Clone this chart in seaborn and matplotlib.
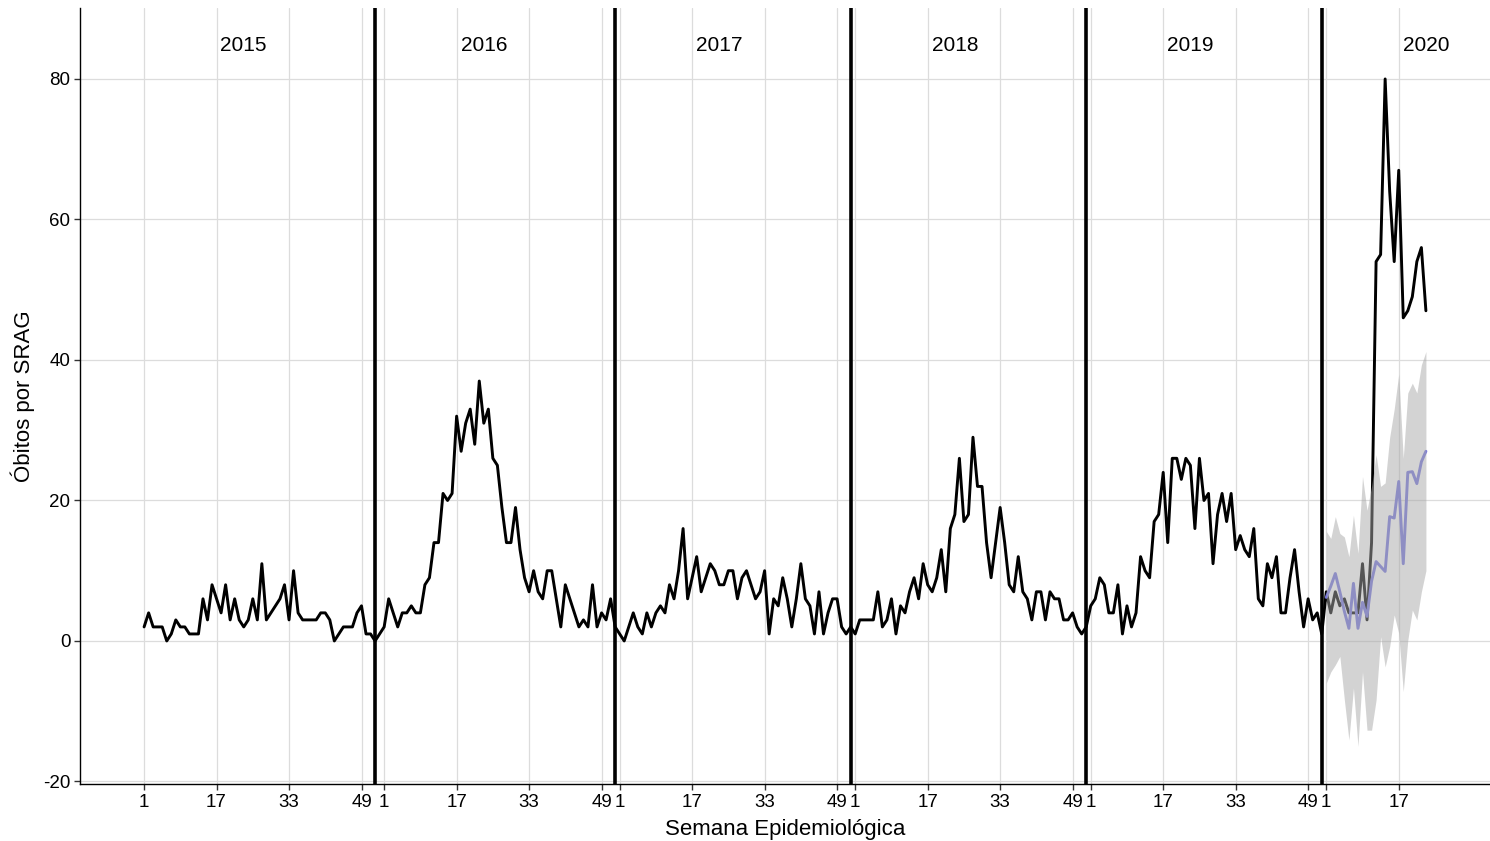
import numpy as np
import pandas as pd
import matplotlib
matplotlib.use("Agg")
import matplotlib.pyplot as plt
import seaborn as sns

# weekly SRAG deaths per year (epidemiological weeks)
years = [2015, 2016, 2017, 2018, 2019, 2020]

obitos_2015 = [2, 4, 2, 2, 2, 0, 1, 3, 2, 2, 1, 1, 1, 6, 3, 8, 6, 4, 8, 3,
               6, 3, 2, 3, 6, 3, 11, 3, 4, 5, 6, 8, 3, 10, 4, 3, 3, 3, 3, 4,
               4, 3, 0, 1, 2, 2, 2, 4, 5, 1, 1, 0, 1]
obitos_2016 = [2, 6, 4, 2, 4, 4, 5, 4, 4, 8, 9, 14, 14, 21, 20, 21, 32, 27, 31, 33,
               28, 37, 31, 33, 26, 25, 19, 14, 14, 19, 13, 9, 7, 10, 7, 6, 10, 10, 6, 2,
               8, 6, 4, 2, 3, 2, 8, 2, 4, 3, 6, 2]
obitos_2017 = [1, 0, 2, 4, 2, 1, 4, 2, 4, 5, 4, 8, 6, 10, 16, 6, 9, 12, 7, 9,
               11, 10, 8, 8, 10, 10, 6, 9, 10, 8, 6, 7, 10, 1, 6, 5, 9, 6, 2, 6,
               11, 6, 5, 1, 7, 1, 4, 6, 6, 2, 1, 2]
obitos_2018 = [1, 3, 3, 3, 3, 7, 2, 3, 6, 1, 5, 4, 7, 9, 6, 11, 8, 7, 9, 13,
               7, 16, 18, 26, 17, 18, 29, 22, 22, 14, 9, 14, 19, 14, 8, 7, 12, 7, 6, 3,
               7, 7, 3, 7, 6, 6, 3, 3, 4, 2, 1, 2]
obitos_2019 = [5, 6, 9, 8, 4, 4, 8, 1, 5, 2, 4, 12, 10, 9, 17, 18, 24, 14, 26, 26,
               23, 26, 25, 16, 26, 20, 21, 11, 18, 21, 17, 21, 13, 15, 13, 12, 16, 6, 5, 11,
               9, 12, 4, 4, 9, 13, 7, 2, 6, 3, 4, 1]
obitos_2020 = [7, 4, 7, 5, 6, 4, 4, 4, 11, 3, 14, 54, 55, 80, 64, 54, 67, 46, 47, 49,
               54, 56, 47]

# expected deaths for 2020 (mean and interval)
media_2020 = [6.2, 7.8, 9.6, 7.0, 4.2, 1.8, 8.2, 1.8, 5.5, 3.5, 8.5, 11.3, 10.6, 9.9, 17.7,
              17.5, 22.7, 11.0, 24.0, 24.1, 22.4, 25.5, 27.0]
inferior_2020 = [-6.0, -4.4, -3.4, -2.2, -8.4, -14.1, -6.7, -15.0, -4.4, -12.7, -12.7, -8.4,
                 0.6, -3.7, -0.8, 3.7, 1.1, -7.2, 0.1, 4.4, 3.0, 7.0, 10.0]
superior_2020 = [15.6, 14.6, 17.7, 15.3, 14.8, 12.0, 17.9, 12.5, 23.4, 18.6, 22.0, 26.5,
                 22.0, 22.5, 29.0, 33.0, 38.0, 26.0, 35.3, 36.7, 35.3, 39.3, 41.2]

tick_weeks = [1, 17, 33, 49]

rows = []
idx = 1
for ano, valores in zip(years, [obitos_2015, obitos_2016, obitos_2017,
                                obitos_2018, obitos_2019, obitos_2020]):
    for semana, v in enumerate(valores, start=1):
        rows.append({"ano": ano, "semana": semana, "x": idx, "obitos": v})
        idx += 1
df = pd.DataFrame(rows)

inicio = df[df.semana == 1].set_index("ano")["x"]
pred = pd.DataFrame({"x": inicio[2020] + np.arange(len(media_2020)),
                     "media": media_2020, "inf": inferior_2020, "sup": superior_2020})

sns.set_theme(style="white")
plt.rcParams["font.family"] = ["Liberation Sans", "DejaVu Sans"]
plt.rcParams["axes.unicode_minus"] = False
plt.rcParams["text.color"] = "black"
plt.rcParams["axes.labelcolor"] = "black"

fig = plt.figure(figsize=(14.9, 8.41), dpi=100)
ax = fig.add_axes([80 / 1490, 57 / 841, 1410 / 1490, 776 / 841])

ticks = df[df.semana.isin(tick_weeks)]
ax.set_xticks(ticks.x)
ax.set_xticklabels(ticks.semana.astype(str))
ax.set_yticks([-20, 0, 20, 40, 60, 80])
ax.grid(True, color="#dcdcdc", lw=0.9)
ax.set_axisbelow(True)

for x in df[(df.semana == 52) & (df.ano < 2020)].x:
    ax.axvline(x, color="black", lw=2.6, zorder=2)

sns.lineplot(data=df, x="x", y="obitos", color="black", lw=2.1, ax=ax, zorder=3)
sns.lineplot(data=pred, x="x", y="media", color="#7474e0", lw=2.1, ax=ax, zorder=3)
ax.fill_between(pred.x, pred.inf, pred.sup, color="#a8a8a8", alpha=0.5, lw=0, zorder=4)

for ano in years:
    ax.text(inicio[ano] + 22, 84.7, str(ano), ha="center", va="center", fontsize=15,
            color="black")

ax.set_xlim(-13.15, 298.15)
ax.set_ylim(-20.36, 90.1)
ax.set_xlabel("Semana Epidemiológica", fontsize=16, labelpad=6)
ax.set_ylabel("Óbitos por SRAG", fontsize=16, labelpad=6)

for s in ["top", "right"]:
    ax.spines[s].set_visible(False)
for s in ["left", "bottom"]:
    ax.spines[s].set_color("black")
    ax.spines[s].set_linewidth(1.0)
ax.tick_params(axis="both", direction="out", length=4, width=1, color="#333333",
               labelsize=13.5, labelcolor="black", bottom=True, left=True, pad=3)

fig.savefig("out.png", dpi=100)
